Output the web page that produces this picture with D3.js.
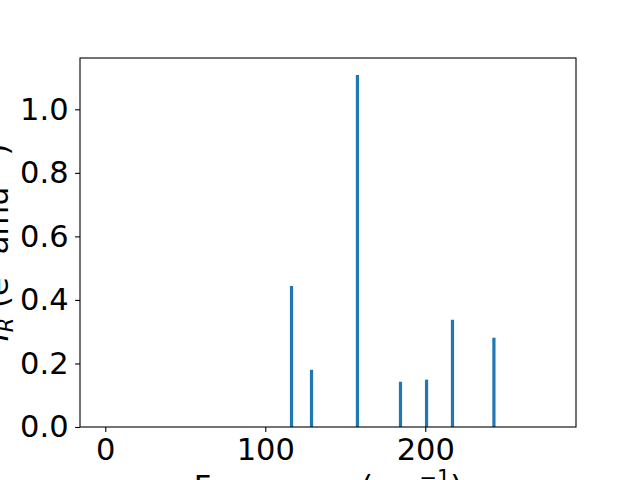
<!DOCTYPE html>
<html>
<head>
<meta charset="utf-8">
<script src="https://cdn.jsdelivr.net/npm/d3@7"></script>
<style>
  body { margin: 0; background: #fff; }
  svg text { font-family: "DejaVu Sans", sans-serif; fill: #000; }
</style>
</head>
<body>
<svg id="chart" width="640" height="480"></svg>
<script>
// frequencies (cm^-1) and IR intensities
const freqs = [116.4, 128.9, 157.6, 184.5, 200.8, 217.0, 242.9]
const intensities = [0.444, 0.180, 1.108, 0.1425, 0.149, 0.3375, 0.281]
const xTicks = [0, 100, 200]
const yTicks = [0.0, 0.2, 0.4, 0.6, 0.8, 1.0]
const barWidth = 2

const svg = d3.select('#chart')
const plotLeft = 80, plotRight = 576, plotTop = 58, plotBottom = 427
const fontSize = 30.5

let x = d3.scaleLinear().domain([-15.8, 294.2]).range([plotLeft, plotRight])
let y = d3.scaleLinear().domain([0, 1.1615]).range([plotBottom, plotTop])

// bars
svg.append('g')
  .selectAll('rect')
  .data(freqs)
  .enter()
  .append('rect')
  .attr('x', function(d) { return x(d - barWidth / 2) })
  .attr('width', function(d) { return x(d + barWidth / 2) - x(d - barWidth / 2) })
  .attr('y', function(d, i) { return y(intensities[i]) })
  .attr('height', function(d, i) { return y(0) - y(intensities[i]) })
  .style('fill', '#1f77b4')

// axes
let xAxis = d3.axisBottom(x).tickValues(xTicks).tickSize(4.9).tickPadding(6.8)
  .tickFormat(d3.format('d'))
let yAxis = d3.axisLeft(y).tickValues(yTicks).tickSize(4.9).tickPadding(6.5)
  .tickFormat(d3.format('.1f'))

let gx = svg.append('g').attr('transform', 'translate(0,' + plotBottom + ')').call(xAxis)
let gy = svg.append('g').attr('transform', 'translate(' + plotLeft + ',0)').call(yAxis)
;[gx, gy].forEach(function(g) {
  g.select('.domain').remove()
  g.selectAll('.tick line').attr('stroke', '#000').attr('stroke-width', 1.1)
  g.selectAll('.tick text').style('font-size', fontSize + 'px')
    .style('font-family', '"DejaVu Sans", sans-serif')
})

// frame
svg.append('rect')
  .attr('x', plotLeft).attr('y', plotTop)
  .attr('width', plotRight - plotLeft).attr('height', plotBottom - plotTop)
  .attr('fill', 'none').attr('stroke', '#000').attr('stroke-width', 1.1)

// x label (mostly below the window, as in the reference)
let xl = svg.append('text')
  .attr('x', (plotLeft + plotRight) / 2).attr('y', 497)
  .attr('text-anchor', 'middle')
  .style('font-size', fontSize + 'px')
xl.append('tspan').text('Frequency (cm')
xl.append('tspan').attr('dy', -12).style('font-size', '21px').text('\u22121')
xl.append('tspan').attr('dy', 12).text(')')

// y label (clipped at the left edge, as in the reference)
let yl = svg.append('text')
  .attr('transform', 'translate(8,' + (plotTop + plotBottom) / 2 + ') rotate(-90)')
  .attr('text-anchor', 'middle')
  .style('font-size', fontSize + 'px')
yl.append('tspan').style('font-style', 'italic').text('I')
yl.append('tspan').attr('dy', 5).style('font-size', '21px').style('font-style', 'italic').text('R')
yl.append('tspan').attr('dy', -5).text(' (e')
yl.append('tspan').attr('dy', -12).style('font-size', '21px').text('2')
yl.append('tspan').attr('dy', 12).text(' amu')
yl.append('tspan').attr('dy', -12).style('font-size', '21px').text('\u22121')
yl.append('tspan').attr('dy', 12).text(')')
</script>
</body>
</html>
